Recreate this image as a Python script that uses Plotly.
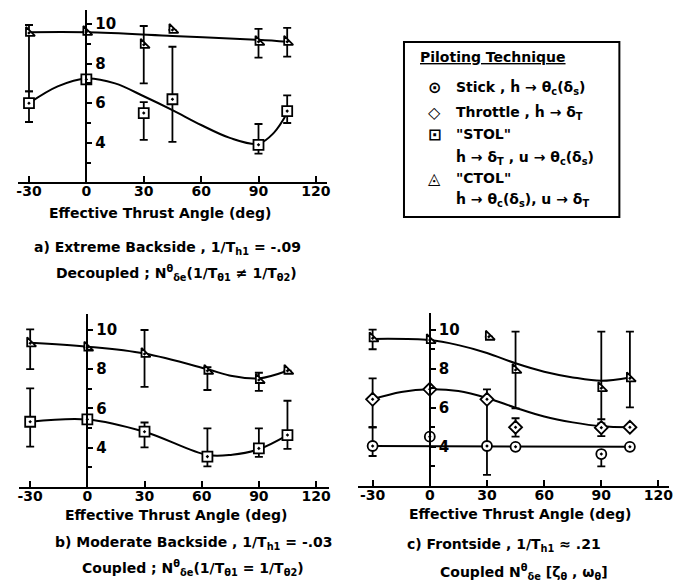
import plotly.graph_objects as go

W, H = 673, 588
FONT = "DejaVu Sans"

# ---------------- data ----------------
tick_x = [-30, 0, 30, 60, 90, 120]
tick_x_text = ["-30", "0", "30", "60", "90", "120"]
tick_y = [4, 6, 8, 10]
tick_y_text = ["4", "6", "8", "10"]

# Panel a) Extreme backside
a_ctol_x = [-30, 0, 30, 45, 90, 105]
a_ctol_y = [9.55, 9.6, 8.95, 9.7, 9.1, 9.1]
a_ctol_hi = [9.95, 9.6, 9.9, 9.7, 9.75, 9.8]
a_ctol_lo = [6.6, 9.6, 7.0, 9.7, 8.3, 8.35]
a_stol_x = [-30, 0, 30, 45, 90, 105]
a_stol_y = [6.0, 7.2, 5.5, 6.2, 3.9, 5.6]
a_stol_hi = [6.6, 7.2, 6.05, 8.85, 4.95, 6.4]
a_stol_lo = [5.05, 7.2, 4.15, 4.05, 3.45, 5.0]
a_ctol_fit_x = [-30, 0, 45, 90, 105]
a_ctol_fit_y = [9.58, 9.58, 9.4, 9.2, 9.1]
a_stol_fit_x = [-30, -15, 0, 15, 30, 45, 60, 75, 90, 98, 105]
a_stol_fit_y = [6.0, 6.85, 7.25, 7.0, 6.35, 5.65, 4.9, 4.25, 3.95, 4.5, 5.5]

# Panel b) Moderate backside
b_ctol_x = [-30, 0, 30, 63, 90, 105]
b_ctol_y = [9.32, 9.1, 8.78, 7.92, 7.45, 7.92]
b_ctol_hi = [10.03, 9.1, 10.0, 8.1, 7.82, 7.92]
b_ctol_lo = [8.0, 9.1, 7.1, 6.94, 6.89, 7.92]
b_stol_x = [-30, 0, 30, 63, 90, 105]
b_stol_y = [5.32, 5.44, 4.81, 3.54, 3.96, 4.64]
b_stol_hi = [7.02, 5.44, 5.28, 4.98, 4.98, 6.39]
b_stol_lo = [4.05, 5.44, 4.01, 3.04, 3.53, 3.93]
b_ctol_fit_x = [-30, 0, 30, 63, 76, 90, 105]
b_ctol_fit_y = [9.35, 9.15, 8.8, 8.0, 7.65, 7.53, 7.92]
b_stol_fit_x = [-30, 0, 30, 63, 76, 90, 105]
b_stol_fit_y = [5.32, 5.44, 4.81, 3.62, 3.64, 3.92, 4.64]

# Panel c) Frontside
c_ctol_x = [-30, 0, 31, 45, 90, 105]
c_ctol_y = [9.55, 9.46, 9.63, 7.93, 7.0, 7.5]
c_ctol_hi = [9.99, 9.46, 9.63, 9.89, 9.89, 9.89]
c_ctol_lo = [8.99, 9.46, 9.63, 5.97, 5.41, 6.02]
c_thr_x = [-30, 0, 30, 45, 90, 105]
c_thr_y = [6.43, 6.94, 6.43, 5.0, 4.98, 5.0]
c_thr_hi = [7.5, 6.94, 6.94, 5.46, 5.2, 5.0]
c_thr_lo = [5.0, 6.94, 4.04, 4.52, 4.55, 5.0]
c_stick_x = [-30, 0, 30, 45, 90, 105]
c_stick_y = [4.04, 4.52, 4.04, 4.0, 3.63, 4.0]
c_stick_hi = [5.0, 4.52, 4.04, 4.0, 3.63, 4.0]
c_stick_lo = [3.53, 4.52, 2.56, 4.0, 3.0, 4.0]
c_ctol_fit_x = [-30, 0, 15, 30, 45, 60, 75, 90, 105]
c_ctol_fit_y = [9.52, 9.46, 9.2, 8.8, 8.27, 7.84, 7.55, 7.38, 7.55]
c_thr_fit_x = [-30, -15, 0, 15, 30, 45, 60, 75, 90, 105]
c_thr_fit_y = [6.43, 6.8, 6.94, 6.85, 6.5, 6.0, 5.55, 5.25, 5.05, 5.0]
c_stick_fit_x = [-30, 105]
c_stick_fit_y = [4.04, 4.0]

legend_lines = [
    ("⊙", "Stick , ḣ → θ<sub>c</sub>(δ<sub>s</sub>)"),
    ("◇", "Throttle , ḣ → δ<sub>T</sub>"),
    ("⊡", "\"STOL\""),
    ("", "ḣ → δ<sub>T</sub> , u → θ<sub>c</sub>(δ<sub>s</sub>)"),
    ("◬", "\"CTOL\""),
    ("", "ḣ → θ<sub>c</sub>(δ<sub>s</sub>), u → δ<sub>T</sub>"),
]

SYM = {"stick": "circle-dot", "thr": "diamond-dot", "stol": "square-dot", "ctol": "triangle-sw-dot"}

# -------------- layout geometry (pixels) --------------
panels = {
    # name: (px of x=0, px/deg, xmin, xmax, py of y=10, px/unit, ymin, ymax)
    "a": (86, 1.927, -36, 126, 24, 19.8, 2, 10.7),
    "b": (87, 1.92, -36, 127, 330, 19.6, 2, 10.8),
    "c": (432, 1.92, -37.5, 125.5, 329.5, 19.55, 2, 10.85),
}
axis_ids = {"a": ("x", "y", ""), "b": ("x2", "y2", "2"), "c": ("x3", "y3", "3")}

fig = go.Figure()
layout = {}
for name, (px0, kx, xmin, xmax, py10, ky, ymin, ymax) in panels.items():
    xa, ya, suf = axis_ids[name]
    left = px0 + kx * xmin
    right = px0 + kx * xmax
    bottom = py10 + (10 - ymin) * ky
    top = py10 + (10 - ymax) * ky
    xd = [left / W, min(right / W, 1.0)]
    yd = [1 - bottom / H, 1 - top / H]
    layout["xaxis" + suf] = dict(
        domain=xd, range=[xmin, xmax], anchor=ya, showline=True, linewidth=2,
        linecolor="black", ticks="inside", ticklen=6, tickwidth=2, tickcolor="black",
        tickvals=tick_x, ticktext=tick_x_text, showgrid=False, zeroline=False,
        ticklabeloverflow="allow", ticklabelstandoff=-5,
        tickfont=dict(family=FONT, size=14, color="black", weight="bold"),
    )
    layout["yaxis" + suf] = dict(
        domain=yd, range=[ymin, ymax], anchor="free",
        position=px0 / W, side="right", showline=True, linewidth=2,
        linecolor="black", ticks="outside", ticklen=5, tickwidth=2, tickcolor="black",
        tickvals=tick_y, ticktext=tick_y_text, showgrid=False, zeroline=False,
        minor=dict(tickvals=[3, 5, 7, 9], ticks="outside", ticklen=4, tickwidth=1.5, tickcolor="black"),
        tickfont=dict(family=FONT, size=15, color="black", weight="bold"),
    )


def add_fit(x, y, name):
    xa, ya, _ = axis_ids[name]
    fig.add_trace(go.Scatter(x=x, y=y, mode="lines", xaxis=xa, yaxis=ya,
                             line=dict(color="black", width=2, shape="spline", smoothing=1.0),
                             showlegend=False, hoverinfo="skip"))


def add_pts(x, y, hi, lo, name, kind):
    xa, ya, _ = axis_ids[name]
    up = [h - v for h, v in zip(hi, y)]
    dn = [v - l for v, l in zip(y, lo)]
    fig.add_trace(go.Scatter(
        x=x, y=y, mode="markers", xaxis=xa, yaxis=ya,
        marker=dict(symbol=SYM[kind], size=10, color="white",
                    line=dict(color="black", width=1.8)),
        error_y=dict(type="data", array=up, arrayminus=dn, symmetric=False,
                     color="black", thickness=1.8, width=4),
        showlegend=False))


add_fit(a_ctol_fit_x, a_ctol_fit_y, "a")
add_fit(a_stol_fit_x, a_stol_fit_y, "a")
add_fit(b_ctol_fit_x, b_ctol_fit_y, "b")
add_fit(b_stol_fit_x, b_stol_fit_y, "b")
add_fit(c_ctol_fit_x, c_ctol_fit_y, "c")
add_fit(c_thr_fit_x, c_thr_fit_y, "c")
add_fit(c_stick_fit_x, c_stick_fit_y, "c")

add_pts(a_ctol_x, a_ctol_y, a_ctol_hi, a_ctol_lo, "a", "ctol")
add_pts(a_stol_x, a_stol_y, a_stol_hi, a_stol_lo, "a", "stol")
add_pts(b_ctol_x, b_ctol_y, b_ctol_hi, b_ctol_lo, "b", "ctol")
add_pts(b_stol_x, b_stol_y, b_stol_hi, b_stol_lo, "b", "stol")
add_pts(c_ctol_x, c_ctol_y, c_ctol_hi, c_ctol_lo, "c", "ctol")
add_pts(c_thr_x, c_thr_y, c_thr_hi, c_thr_lo, "c", "thr")
add_pts(c_stick_x, c_stick_y, c_stick_hi, c_stick_lo, "c", "stick")

ann = []


def text(x, y, s, size=13, anchor="center"):
    ann.append(dict(x=x / W, y=1 - y / H, xref="paper", yref="paper", text=s,
                    showarrow=False, xanchor=anchor, yanchor="middle",
                    font=dict(family=FONT, size=size, color="black", weight="bold")))


# axis titles
text(160, 213, "Effective Thrust Angle (deg)", size=14)
text(176, 515, "Effective Thrust Angle (deg)", size=14)
text(523, 514, "Effective Thrust Angle (deg)", size=14)

# captions
text(168, 248, "a) Extreme Backside , 1/T<sub>h1</sub> = -.09", size=14)
text(177, 273, "Decoupled ; N<sup>θ</sup><sub>δe</sub>(1/T<sub>θ1</sub> ≠ 1/T<sub>θ2</sub>)", size=14)
text(194, 543, "b) Moderate Backside , 1/T<sub>h1</sub> = -.03", size=14)
text(193, 568, "Coupled ; N<sup>θ</sup><sub>δe</sub>(1/T<sub>θ1</sub> = 1/T<sub>θ2</sub>)", size=14)
text(507, 545, "c) Frontside , 1/T<sub>h1</sub> ≈ .21", size=14)
text(527, 572, "Coupled N<sup>θ</sup><sub>δe</sub> [ζ<sub>θ</sub> , ω<sub>θ</sub>]", size=14)

# legend box
text(420, 57, "<u>Piloting Technique</u>", size=14, anchor="left")
leg_y = [88, 112, 134, 157, 178, 199]
for (sym, s), yy in zip(legend_lines, leg_y):
    if sym:
        text(437, yy, sym, size=16)
    text(456, yy, s, size=14, anchor="left")

layout["shapes"] = [dict(type="rect", xref="paper", yref="paper",
                         x0=406 / W, x1=623 / W, y0=1 - 217 / H, y1=1 - 42 / H,
                         line=dict(color="black", width=2))]
layout["annotations"] = ann

fig.update_layout(width=W, height=H, margin=dict(l=0, r=0, t=0, b=0),
                  paper_bgcolor="white", plot_bgcolor="white",
                  font=dict(family=FONT, color="black"), showlegend=False, **layout)

fig.write_html("out.html", config={"displayModeBar": False},
               post_script="document.body.style.margin='0px';document.body.style.padding='0px';")
